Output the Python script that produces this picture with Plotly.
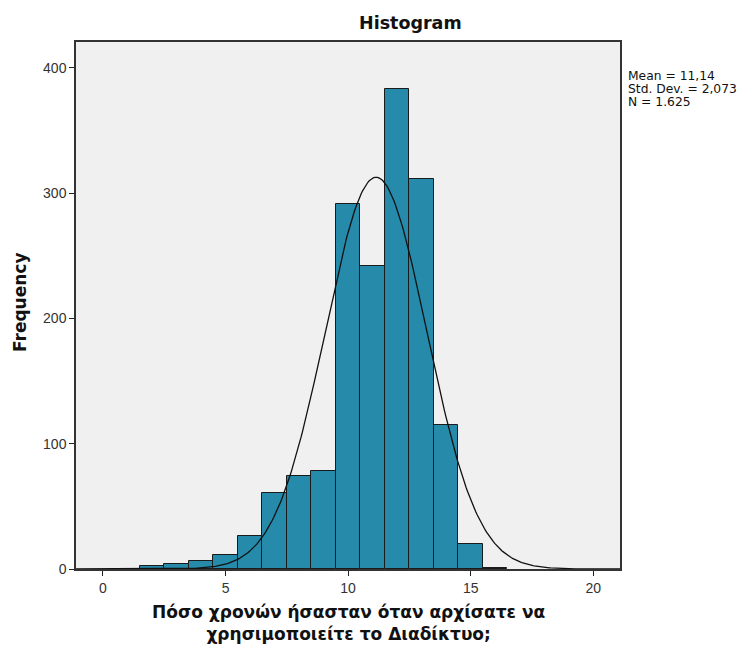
import numpy as np
import plotly.graph_objects as go

# Histogram of age at first internet use (bin width 1, centred on integers)
ages = [2, 3, 4, 5, 6, 7, 8, 9, 10, 11, 12, 13, 14, 15, 16]
counts = [2, 4, 6, 11, 26, 61, 74, 78, 291, 242, 383, 311, 115, 20, 1]

mean_val = 11.14
std_val = 2.073
n_total = 1625
bin_width = 1.0

x_ticks = [0, 5, 10, 15, 20]
y_ticks = [0, 100, 200, 300, 400]

# Fitted normal curve scaled to counts
xc = np.linspace(-1.1, 21.1, 400)
yc = n_total * bin_width / (std_val * np.sqrt(2 * np.pi)) * np.exp(-0.5 * ((xc - mean_val) / std_val) ** 2)

TICK_FONT = "Liberation Sans, Arial, sans-serif"
TEXT_FONT = "DejaVu Sans, Verdana, sans-serif"

W, H = 743, 648
ML, MR, MT, MB = 76, 123, 42, 79
PW, PH = W - ML - MR, H - MT - MB

fig = go.Figure()
fig.add_trace(go.Bar(
    x=ages, y=counts, width=bin_width,
    marker=dict(color="#268AAB", line=dict(color="#1b1b1b", width=1)),
    hoverinfo="x+y",
))
fig.add_trace(go.Scatter(
    x=xc, y=yc, mode="lines",
    line=dict(color="#111111", width=1.3),
    hoverinfo="skip",
))

fig.update_layout(
    width=W, height=H,
    margin=dict(l=ML, r=MR, t=MT, b=MB),
    paper_bgcolor="white",
    plot_bgcolor="#F0F0F0",
    showlegend=False,
    bargap=0,
    font=dict(family=TICK_FONT, color="#222222"),
    xaxis=dict(
        range=[-1.1, 21.09], tickvals=x_ticks,
        ticks="outside", ticklen=5, tickcolor="#222222",
        tickfont=dict(size=14, color="#333333"),
        showgrid=False, zeroline=False, automargin=False,
        showline=True, linecolor="#333333", linewidth=1.5, mirror=True,
    ),
    yaxis=dict(
        range=[0, 420.7], tickvals=y_ticks,
        ticks="outside", ticklen=5, tickcolor="#222222",
        tickfont=dict(size=14, color="#333333"),
        showgrid=False, zeroline=False, automargin=False,
        showline=True, linecolor="#333333", linewidth=1.5, mirror=True,
    ),
)

def paper_xy(px, py):
    return (px - ML) / PW, 1 - (py - MT) / PH

# Chart title
tx, ty = paper_xy(410, 23)
fig.add_annotation(text="<b>Histogram</b>", xref="paper", yref="paper", x=tx, y=ty,
                   xanchor="center", yanchor="middle", showarrow=False,
                   font=dict(family=TEXT_FONT, size=17.5, color="#111111"))

# X axis title (two lines)
tx, ty = paper_xy(348, 623)
fig.add_annotation(
    text="<b>Πόσο χρονών ήσασταν όταν αρχίσατε να<br>χρησιμοποιείτε το Διαδίκτυο;</b>",
    xref="paper", yref="paper", x=tx, y=ty, xanchor="center", yanchor="middle",
    showarrow=False, align="center",
    font=dict(family=TEXT_FONT, size=17, color="#111111"),
)

# Y axis title
tx, ty = paper_xy(20, 302)
fig.add_annotation(text="<b>Frequency</b>", xref="paper", yref="paper", x=tx, y=ty,
                   xanchor="center", yanchor="middle", textangle=-90, showarrow=False,
                   font=dict(family=TEXT_FONT, size=17, color="#111111"))

# Summary statistics beside the plot, one line each
stats_lines = [
    "Mean = " + f"{mean_val:.2f}".replace(".", ","),
    "Std. Dev. = " + f"{std_val:.3f}".replace(".", ","),
    "N = " + f"{n_total:,}".replace(",", "."),
]
for i, line in enumerate(stats_lines):
    tx, ty = paper_xy(626, 76 + 13 * i)
    fig.add_annotation(
        text=line, xref="paper", yref="paper", x=tx, y=ty,
        xanchor="left", yanchor="middle", showarrow=False, align="left",
        font=dict(family=TEXT_FONT, size=12.3, color="#111111"),
    )

fig.write_html("out.html")
